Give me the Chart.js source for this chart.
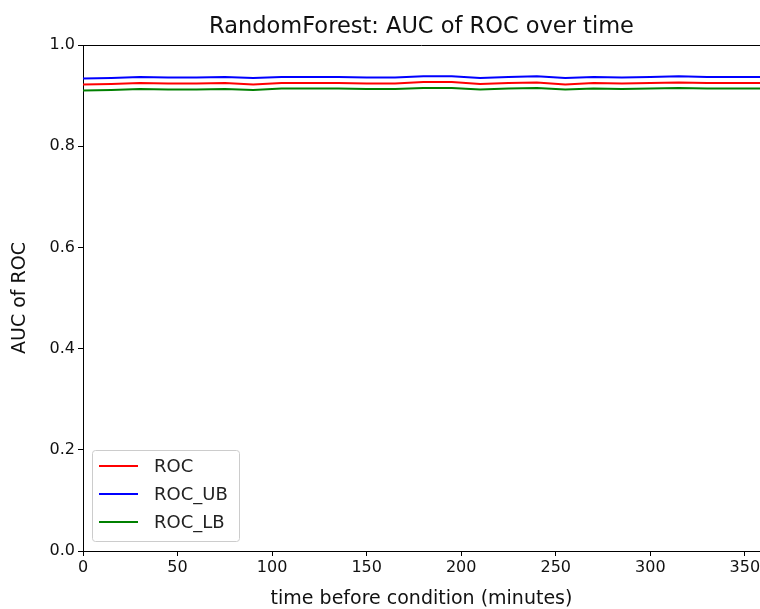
<!DOCTYPE html>
<html>
<head>
<meta charset="utf-8">
<script src="https://cdn.jsdelivr.net/npm/chart.js@4.4.0/dist/chart.umd.min.js"></script>
<style>
  body { margin: 0; background: #fff; }
  #wrap { width: 760px; height: 609px; }
</style>
</head>
<body>
<div id="wrap"><canvas id="auc-chart"></canvas></div>
<script>
// minutes before condition
const times = [0, 15, 30, 45, 60, 75, 90, 105, 120, 135, 150, 165, 180, 195, 210, 225, 240, 255, 270, 285, 300, 315, 330, 345, 360];
const rocValues = [0.922, 0.923, 0.925, 0.924, 0.924, 0.925, 0.922, 0.925, 0.925, 0.925, 0.924, 0.924, 0.927, 0.927, 0.923, 0.925, 0.926, 0.922, 0.925, 0.924, 0.925, 0.926, 0.925, 0.925, 0.925];
const rocUbValues = [0.934, 0.935, 0.937, 0.936, 0.936, 0.937, 0.935, 0.937, 0.937, 0.937, 0.936, 0.936, 0.938, 0.938, 0.935, 0.937, 0.938, 0.935, 0.937, 0.936, 0.937, 0.938, 0.937, 0.937, 0.937];
const rocLbValues = [0.910, 0.911, 0.913, 0.912, 0.912, 0.913, 0.911, 0.914, 0.914, 0.914, 0.913, 0.913, 0.915, 0.915, 0.912, 0.914, 0.915, 0.912, 0.914, 0.913, 0.914, 0.915, 0.914, 0.914, 0.914];
const seriesNames = ["ROC", "ROC_UB", "ROC_LB"];
const xTicks = [0, 50, 100, 150, 200, 250, 300, 350];

const FONT = "DejaVu Sans";

function toPoints(values) {
    return times.map(function (t, i) { return { x: t, y: values[i] }; });
}

function makeSet(label, values, color) {
    return {
        label: label,
        data: toPoints(values),
        borderColor: color,
        backgroundColor: color,
        borderWidth: 2,
        pointRadius: 0,
        tension: 0
    };
}

// matplotlib-like frame + legend box inside the axes
const framePlugin = {
    id: 'frame',
    afterDraw: function (chart) {
        const ctx = chart.ctx;
        const a = chart.chartArea;
        ctx.save();
        ctx.strokeStyle = '#000';
        ctx.lineWidth = 1;
        ctx.beginPath();
        ctx.moveTo(a.left, a.top + 0.5);
        ctx.lineTo(a.right, a.top + 0.5);
        ctx.stroke();

        // legend
        const bx = a.left + 9, by = a.bottom - 101, bw = 147, bh = 91;
        ctx.fillStyle = 'rgba(255,255,255,0.8)';
        ctx.strokeStyle = '#cccccc';
        ctx.beginPath();
        ctx.roundRect(bx + 0.5, by + 0.5, bw, bh, 3);
        ctx.fill();
        ctx.stroke();
        ctx.font = '18px "' + FONT + '"';
        ctx.textBaseline = 'middle';
        chart.data.datasets.forEach(function (ds, i) {
            const y = by + 16 + i * 28;
            ctx.strokeStyle = ds.borderColor;
            ctx.lineWidth = 2;
            ctx.beginPath();
            ctx.moveTo(bx + 7, y);
            ctx.lineTo(bx + 46, y);
            ctx.stroke();
            ctx.fillStyle = '#222';
            ctx.fillText(ds.label, bx + 62, y + 1);
        });
        ctx.restore();
    }
};

new Chart(document.getElementById('auc-chart'), {
    type: 'line',
    data: {
        datasets: [
            makeSet(seriesNames[0], rocValues, '#ff0000'),
            makeSet(seriesNames[1], rocUbValues, '#0000ff'),
            makeSet(seriesNames[2], rocLbValues, '#008000')
        ]
    },
    options: {
        responsive: true,
        maintainAspectRatio: false,
        animation: false,
        layout: { padding: 0 },
        plugins: {
            legend: { display: false },
            tooltip: { enabled: false },
            title: {
                display: true,
                fullSize: false,
                text: 'RandomForest: AUC of ROC over time',
                color: '#111',
                font: { family: FONT, size: 22.5, weight: 'normal' },
                padding: { top: 14, bottom: 4 }
            }
        },
        scales: {
            x: {
                type: 'linear',
                min: 0,
                max: 358,
                afterBuildTicks: function (scale) {
                    scale.ticks = xTicks.map(function (v) { return { value: v }; });
                },
                afterFit: function (scale) {
                    scale.height = 58;
                    scale.paddingRight = 0;
                    scale.paddingLeft = 0;
                },
                ticks: {
                    color: '#111',
                    font: { family: FONT, size: 16 },
                    padding: 2,
                    maxRotation: 0,
                    autoSkip: false
                },
                grid: {
                    drawOnChartArea: false,
                    drawTicks: true,
                    tickLength: 5,
                    color: '#000'
                },
                border: { color: '#000', width: 1 },
                title: {
                    display: true,
                    text: 'time before condition (minutes)',
                    color: '#111',
                    font: { family: FONT, size: 19, lineHeight: 1.0 },
                    padding: { top: 2, bottom: 0 }
                }
            },
            y: {
                min: 0,
                max: 1,
                afterFit: function (scale) {
                    scale.width = 83;
                },
                ticks: {
                    stepSize: 0.2,
                    color: '#111',
                    font: { family: FONT, size: 16 },
                    padding: 3,
                    callback: function (v) { return v.toFixed(1); }
                },
                grid: {
                    drawOnChartArea: false,
                    drawTicks: true,
                    tickLength: 5,
                    color: '#000'
                },
                border: { color: '#000', width: 1 },
                title: {
                    display: true,
                    text: 'AUC of ROC',
                    color: '#111',
                    font: { family: FONT, size: 19, lineHeight: 1.0 },
                    padding: { top: 11, bottom: 0 }
                }
            }
        }
    },
    plugins: [framePlugin]
});
</script>
</body>
</html>
